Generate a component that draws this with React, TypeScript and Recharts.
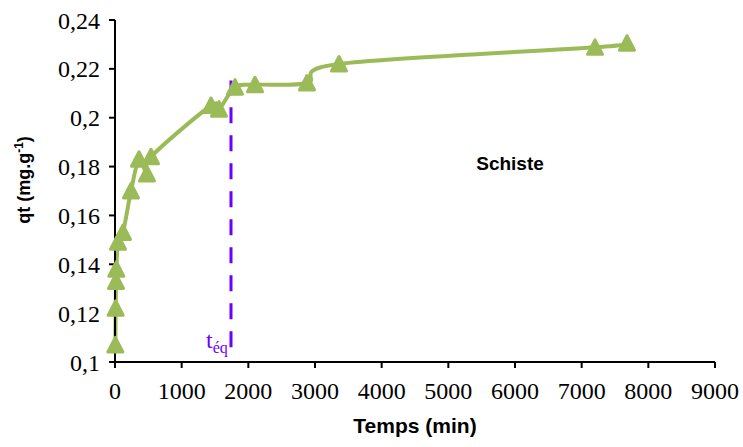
import React from 'react';
import { LineChart, Line, XAxis, YAxis, ReferenceLine, ReferenceDot } from 'recharts';

const times = [5, 10, 15, 20, 45, 120, 240, 360, 480, 540, 1440, 1560, 1800, 2100, 2880, 3360, 7200, 7680];
const qt = [0.107, 0.122, 0.133, 0.138, 0.149, 0.153, 0.17, 0.183, 0.177, 0.184, 0.205, 0.2035, 0.2125, 0.2135, 0.2142, 0.222, 0.2288, 0.2305];
const xTicks = [0, 1000, 2000, 3000, 4000, 5000, 6000, 7000, 8000, 9000];
const yTicks = [0.1, 0.12, 0.14, 0.16, 0.18, 0.2, 0.22, 0.24];
const tEq = 1740;
const tEqRange = [0.106, 0.2152];

const data = times.map((t, i) => ({ t, q: qt[i] }));

const GREEN = '#9BBB59';
const PURPLE = '#6A00FF';

const fmtY = (v: number) => {
  let s = v.toFixed(2);
  s = s.replace(/0+$/, '').replace(/\.$/, '');
  return s.replace('.', ',');
};

// Catmull-Rom style smoothing similar to a spreadsheet's smoothed line
const smoothCurve: any = (context: any) => {
  let pts: number[][] = [];
  return {
    areaStart() {},
    areaEnd() {},
    lineStart() { pts = []; },
    point(x: number, y: number) { pts.push([+x, +y]); },
    lineEnd() {
      const n = pts.length;
      if (!n) return;
      context.moveTo(pts[0][0], pts[0][1]);
      for (let i = 0; i < n - 1; i++) {
        const p0 = pts[i - 1] || pts[i];
        const p1 = pts[i];
        const p2 = pts[i + 1];
        const p3 = pts[i + 2] || p2;
        const c1x = p1[0] + (p2[0] - p0[0]) / 6;
        const c1y = p1[1] + (p2[1] - p0[1]) / 6;
        const c2x = p2[0] - (p3[0] - p1[0]) / 6;
        const c2y = p2[1] - (p3[1] - p1[1]) / 6;
        context.bezierCurveTo(c1x, c1y, c2x, c2y, p2[0], p2[1]);
      }
    },
  };
};

const Tri = (props: any) => {
  const { cx, cy } = props;
  if (cx == null || cy == null) return null;
  const d = `M${cx},${cy - 7.5} L${cx + 7.5},${cy + 7} L${cx - 7.5},${cy + 7} Z`;
  return <path d={d} fill={GREEN} stroke={GREEN} strokeWidth={3} strokeLinejoin="round" />;
};

const YLabel = (props: any) => {
  const vb = props.viewBox || {};
  const cx = 30;
  const cy = vb.y + vb.height / 2 - 11;
  return (
    <text x={cx} y={cy} transform={`rotate(-90 ${cx} ${cy})`} textAnchor="middle"
      fontFamily="'Liberation Sans', Arial, sans-serif" fontWeight="bold" fontSize={18} fill="#000">
      qt (mg.g<tspan fontSize={12} dy={-7}>-1</tspan><tspan dy={7}>)</tspan>
    </text>
  );
};

const XLabel = (props: any) => {
  const vb = props.viewBox || {};
  return (
    <text x={vb.x + vb.width / 2} y={433} textAnchor="middle"
      fontFamily="'Liberation Sans', Arial, sans-serif" fontWeight="bold" fontSize={21} fill="#000">
      Temps (min)
    </text>
  );
};

const TEqLabel = (props: any) => {
  const vb = props.viewBox || {};
  const x = vb.x - 25;
  const y = (vb.y || 0) + (vb.height || 0) + 1;
  return (
    <text x={x} y={y} fontFamily="'Liberation Serif', 'Times New Roman', serif" fill={PURPLE} fontSize={24}>
      t<tspan fontSize={16} dy={5}>éq</tspan>
    </text>
  );
};

export default function App() {
  return (
    <div style={{ position: 'absolute', left: 0, top: 0, width: 743, height: 447, background: '#fff' }}>
      <LineChart width={743} height={447} data={data} margin={{ top: 20, right: 28, bottom: 55, left: 15 }}>
        <XAxis dataKey="t" type="number" domain={[0, 9000]} ticks={xTicks} interval={0}
          axisLine={{ stroke: '#000', strokeWidth: 2 }} tickLine={{ stroke: '#000', strokeWidth: 2 }}
          tickSize={6} tickMargin={14} height={30}
          tick={{ fill: '#000', fontSize: 24, fontFamily: "'Liberation Serif', 'Times New Roman', serif" }}
          label={<XLabel />} />
        <YAxis type="number" domain={[0.1, 0.24]} ticks={yTicks} interval={0} width={100}
          tickFormatter={fmtY} allowDataOverflow
          axisLine={{ stroke: '#000', strokeWidth: 2 }} tickLine={{ stroke: '#000', strokeWidth: 2 }}
          tickSize={6} tickMargin={9}
          tick={{ fill: '#000', fontSize: 24, fontFamily: "'Liberation Serif', 'Times New Roman', serif" }}
          label={<YLabel />} />
        <Line dataKey="q" type={smoothCurve} stroke={GREEN} strokeWidth={4} dot={<Tri />}
          activeDot={false} isAnimationActive={false} />
        <ReferenceLine segment={[{ x: tEq, y: tEqRange[0] }, { x: tEq, y: tEqRange[1] }]}
          stroke={PURPLE} strokeWidth={3} strokeDasharray="16 12" label={<TEqLabel />} />
        <ReferenceDot x={5925} y={0.1812} r={0} fill="none" stroke="none"
          label={{ value: 'Schiste', position: 'center', fill: '#000', fontSize: 19, fontWeight: 'bold', fontFamily: "'Liberation Sans', Arial, sans-serif" }} />
      </LineChart>
    </div>
  );
}
